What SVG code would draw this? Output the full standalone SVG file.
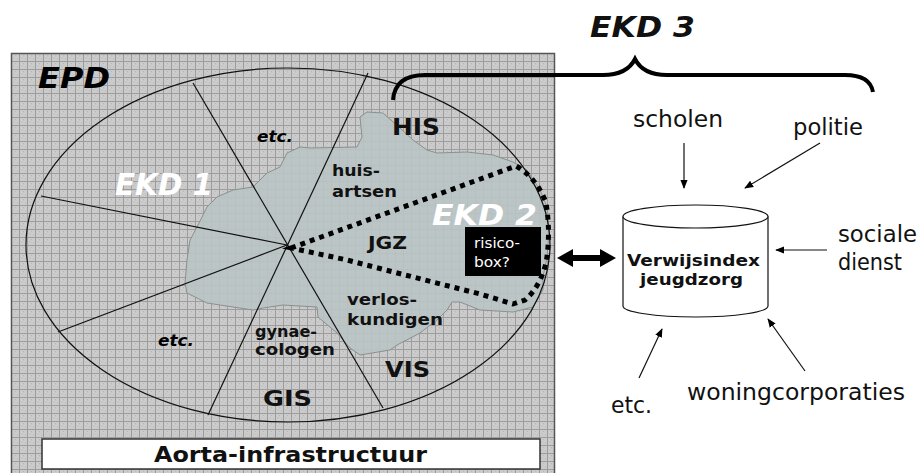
<svg xmlns="http://www.w3.org/2000/svg" width="921" height="473" viewBox="0 0 921 473">
  <defs>
    <pattern id="grid" x="11" y="53" width="8" height="8" patternUnits="userSpaceOnUse">
      <rect width="8" height="8" fill="#cbcbcb"/>
      <path d="M0 0.5H8M0.5 0V8" stroke="#9c9c9c" stroke-width="1"/>
      <path d="M4 2.5h1M2.5 5h1M6 6h1" stroke="#b8b8b8" stroke-width="1"/>
    </pattern>
    <marker id="tip" viewBox="0 0 10 10" refX="9" refY="5" markerWidth="9" markerHeight="9" markerUnits="userSpaceOnUse" orient="auto">
      <path d="M0 1L10 5L0 9Z" fill="#000"/>
    </marker>
  </defs>
  <style>
    .b { font-family: "DejaVu Sans", Verdana, sans-serif; font-weight: bold; fill: #111; }
    .bi { font-family: "DejaVu Sans", Verdana, sans-serif; font-weight: bold; font-style: italic; }
    .n { font-family: "DejaVu Sans", Verdana, sans-serif; fill: #111; font-size: 23px; }
    .thin { fill: none; stroke: #111; stroke-width: 1.2; }
    .feed { fill: none; stroke: #111; stroke-width: 1.2; marker-end: url(#tip); }
  </style>

  <!-- EPD panel -->
  <g id="epd">
    <rect x="11.5" y="53.5" width="543" height="430" fill="url(#grid)" stroke="#555" stroke-width="1.5"/>
    <text class="bi" x="38" y="88" font-size="29" textLength="72" lengthAdjust="spacingAndGlyphs">EPD</text>
  </g>

  <!-- shared region of the ketenpartners -->
  <g id="blob">
    <path d="M190,240 L197,227 L207,207 L217,197 L233,190 L253,187 L267,173 L280,167 L287,153 L300,147 L310,148 L357,147 L362,137 L360,117 L367,112 L383,113 L400,128 L413,140 L427,150 L437,153 L467,152 L493,155 L513,162 L527,170 L540,190 L547,207 L549,233 L547,257 L543,277 L543,290 L533,307 L513,312 L480,310 L460,302 L452,302 L447,310 L437,320 L420,333 L397,345 L390,350 L360,355 L350,348 L337,333 L318,317 L317,307 L300,306 L283,305 L263,308 L253,310 L207,303 L187,293 L185,283 L187,260 Z" fill="#bac4c4" fill-opacity="0.9" stroke="#8a9090" stroke-width="1"/>
  </g>

  <!-- domain ellipse with sector lines -->
  <g id="domains">
    <ellipse class="thin" cx="288" cy="245" rx="262" ry="177"/>
    <line class="thin" x1="193" y1="83" x2="383" y2="408"/>
    <line class="thin" x1="368" y1="73" x2="208" y2="415"/>
    <line class="thin" x1="41" y1="196" x2="287" y2="245"/>
    <line class="thin" x1="58" y1="332" x2="287" y2="245"/>
  </g>

  <!-- EKD 2 sector -->
  <g id="ekd2">
    <path d="M291,248 L516,166 Q537,178 546,203 Q551,233 546,263 Q540,287 525,300 L513,304 L480,294 L413,277 L347,260 Z" fill="none" stroke="#000" stroke-width="5" stroke-dasharray="5 5"/>
  </g>

  <g id="labels-epd">
    <text class="bi" x="257" y="142" font-size="15" textLength="36" lengthAdjust="spacingAndGlyphs">etc.</text>
    <text class="bi" x="115" y="195" font-size="30" fill="#fff" textLength="98" lengthAdjust="spacingAndGlyphs">EKD 1</text>
    <text class="b" x="392" y="135" font-size="23" textLength="48" lengthAdjust="spacingAndGlyphs">HIS</text>
    <text class="b" x="332" y="176" font-size="16" textLength="48" lengthAdjust="spacingAndGlyphs">huis-</text>
    <text class="b" x="332" y="197" font-size="16" textLength="65" lengthAdjust="spacingAndGlyphs">artsen</text>
    <text class="bi" x="432" y="225" font-size="28" fill="#fff" textLength="105" lengthAdjust="spacingAndGlyphs">EKD 2</text>
    <text class="b" x="368" y="249" font-size="17" textLength="39" lengthAdjust="spacingAndGlyphs">JGZ</text>
    <text class="b" x="347" y="305" font-size="16" textLength="70" lengthAdjust="spacingAndGlyphs">verlos-</text>
    <text class="b" x="347" y="325" font-size="16" textLength="96" lengthAdjust="spacingAndGlyphs">kundigen</text>
    <text class="b" x="255" y="337" font-size="16" textLength="62" lengthAdjust="spacingAndGlyphs">gynae-</text>
    <text class="b" x="255" y="355" font-size="16" textLength="80" lengthAdjust="spacingAndGlyphs">cologen</text>
    <text class="b" x="385" y="377" font-size="22" textLength="45" lengthAdjust="spacingAndGlyphs">VIS</text>
    <text class="b" x="263" y="406" font-size="22" textLength="49" lengthAdjust="spacingAndGlyphs">GIS</text>
    <text class="bi" x="158" y="346" font-size="15" textLength="36" lengthAdjust="spacingAndGlyphs">etc.</text>
  </g>

  <g id="risicobox">
    <rect x="465" y="227" width="76" height="49" fill="#000"/>
    <text x="474" y="248" font-family="DejaVu Sans, Verdana, sans-serif" font-size="14" fill="#fff" textLength="46" lengthAdjust="spacingAndGlyphs">risico-</text>
    <text x="474" y="267" font-family="DejaVu Sans, Verdana, sans-serif" font-size="14" fill="#fff" textLength="36" lengthAdjust="spacingAndGlyphs">box?</text>
  </g>

  <g id="aorta">
    <rect x="42" y="439" width="498" height="30" fill="#fff" stroke="#333" stroke-width="1.5"/>
    <text class="b" x="154" y="462" font-size="21" textLength="273" lengthAdjust="spacingAndGlyphs">Aorta-infrastructuur</text>
  </g>

  <!-- EKD 3 brace -->
  <g id="ekd3">
    <path d="M393,100 Q395,75 425,75 L603,75 Q627,75 635,59 Q643,75 667,75 L845,75 Q870,75 873,92" fill="none" stroke="#000" stroke-width="4"/>
    <text class="bi" x="590" y="37" font-size="28" fill="#111" textLength="105" lengthAdjust="spacingAndGlyphs">EKD 3</text>
  </g>

  <g id="verwijsindex">
    <path d="M623,216.5 V306 A72.5,11 0 0 0 768,306 V216.5" fill="#fff" stroke="#111" stroke-width="1.2"/>
    <ellipse cx="695.5" cy="216.5" rx="72.5" ry="11.5" fill="#fff" stroke="#111" stroke-width="1.2"/>
    <text class="b" x="627" y="266" font-size="15" textLength="133" lengthAdjust="spacingAndGlyphs">Verwijsindex</text>
    <text class="b" x="640" y="285" font-size="15" textLength="103" lengthAdjust="spacingAndGlyphs">jeugdzorg</text>
  </g>

  <g id="sources">
    <text class="n" x="633" y="127" textLength="90" lengthAdjust="spacingAndGlyphs">scholen</text>
    <text class="n" x="793" y="135" textLength="70" lengthAdjust="spacingAndGlyphs">politie</text>
    <text class="n" x="838" y="242" textLength="79" lengthAdjust="spacingAndGlyphs">sociale</text>
    <text class="n" x="838" y="270" textLength="64" lengthAdjust="spacingAndGlyphs">dienst</text>
    <text class="n" x="687" y="400" textLength="218" lengthAdjust="spacingAndGlyphs">woningcorporaties</text>
    <text class="n" x="611" y="413" textLength="41" lengthAdjust="spacingAndGlyphs">etc.</text>
  </g>

  <!-- connectors -->
  <g id="connectors">
    <line class="feed" x1="684" y1="143" x2="684" y2="188"/>
    <line class="feed" x1="820" y1="143" x2="745" y2="188"/>
    <line class="feed" x1="827" y1="250" x2="776" y2="250"/>
    <line class="feed" x1="805" y1="371" x2="768" y2="319"/>
    <line class="feed" x1="639" y1="378" x2="662" y2="329"/>
    <polygon points="557,258 573,249 573,255 600,255 600,249 616,258 600,267 600,261 573,261 573,267" fill="#000"/>
  </g>
</svg>
